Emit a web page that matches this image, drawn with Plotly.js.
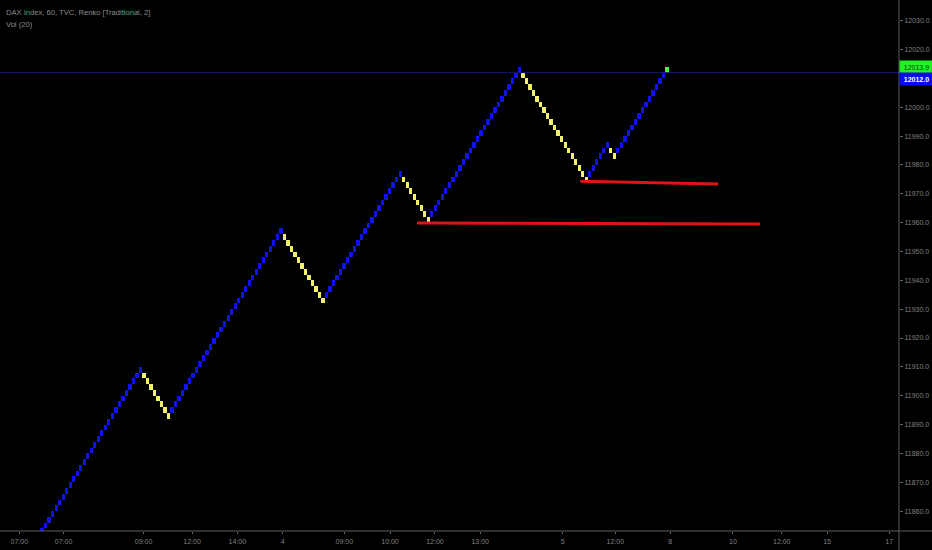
<!DOCTYPE html>
<html><head><meta charset="utf-8">
<script src="https://cdn.plot.ly/plotly-3.0.1.min.js"></script>
<style>html,body{margin:0;padding:0;background:#000;}#chart{width:932px;height:550px;}</style>
</head><body><div id="chart"></div>
<script>
// Renko bricks (brick size 2): bottoms of each brick, per swing
const swingA_up   = [11850,11852,11854,11856,11858,11860,11862,11864,11866,11868,11870,11872,11874,11876,11878,11880,11882,11884,11886,11888,11890,11892,11894,11896,11898,11900,11902,11904,11906,11908];
const swingB_down = [11906,11904,11902,11900,11898,11896,11894,11892];
const swingC_up   = [11894,11896,11898,11900,11902,11904,11906,11908,11910,11912,11914,11916,11918,11920,11922,11924,11926,11928,11930,11932,11934,11936,11938,11940,11942,11944,11946,11948,11950,11952,11954,11956];
const swingD_down = [11954,11952,11950,11948,11946,11944,11942,11940,11938,11936,11934,11932];
const swingE_up   = [11934,11936,11938,11940,11942,11944,11946,11948,11950,11952,11954,11956,11958,11960,11962,11964,11966,11968,11970,11972,11974,11976];
const swingF_down = [11974,11972,11970,11968,11966,11964,11962,11960];
const swingG_up   = [11962,11964,11966,11968,11970,11972,11974,11976,11978,11980,11982,11984,11986,11988,11990,11992,11994,11996,11998,12000,12002,12004,12006,12008,12010,12012];
const swingH_down = [12010,12008,12006,12004,12002,12000,11998,11996,11994,11992,11990,11988,11986,11984,11982,11980,11978,11976,11974];
const swingI_up   = [11976,11978,11980,11982,11984,11986];
const swingJ_down = [11984,11982];
const swingK_up   = [11984,11986,11988,11990,11992,11994,11996,11998,12000,12002,12004,12006,12008,12010,12012];
const brickSize = 2;

// x-axis tick positions (brick index) and labels
const xTickVals   = [-5.5, 7.1, 29.9, 43.7, 56.6, 69.5, 87.1, 100.1, 112.9, 125.8, 149.3, 164.3, 179.9, 197.8, 211.7, 224.6, 242.3];
const xTickLabels = ["07:00","07:00","09:00","12:00","14:00","4","09:00","10:00","12:00","13:00","5","12:00","8","10","12:00","15","17"];
// y-axis ticks
const yTickVals = [11860,11870,11880,11890,11900,11910,11920,11930,11940,11950,11960,11970,11980,11990,12000,12020,12030];

// horizontal lines drawn by the author (brick index, price)
const support1X = [154.3, 193.6], support1Y = [11974.4, 11973.4];
const support2X = [107.8, 205.5], support2Y = [11959.9, 11959.5];
const lastBrickClose = 12012.0;
const lastPrice = 12013.9;

const swings = [
  [swingA_up,'up'],[swingB_down,'down'],[swingC_up,'up'],[swingD_down,'down'],
  [swingE_up,'up'],[swingF_down,'down'],[swingG_up,'up'],[swingH_down,'down'],
  [swingI_up,'up'],[swingJ_down,'down'],[swingK_up,'up']
];
const COL_UP = '#1212f0', COL_DOWN = '#f2f26a', COL_LAST = '#3cff3c';
const bx = [], bbase = [], bh = [], bcol = [];
let idx = 0;
swings.forEach(([arr, dir]) => {
  arr.forEach(v => {
    bx.push(idx++); bbase.push(v); bh.push(brickSize);
    bcol.push(dir === 'up' ? COL_UP : COL_DOWN);
  });
});
bcol[bcol.length - 1] = COL_LAST;

const gridFont = {family: 'Liberation Sans, Arial, sans-serif', size: 7, color: '#808080'};

const traces = [
  {type:'scatter', mode:'lines', x:[-20, 300], y:[lastBrickClose, lastBrickClose],
   line:{color:'#16167a', width:1}, hoverinfo:'skip', showlegend:false},
  {type:'bar', x:bx, base:bbase, y:bh, width:0.95,
   marker:{color:bcol, line:{width:0}}, hoverinfo:'skip', showlegend:false},
  {type:'scatter', mode:'lines', x:support1X, y:support1Y,
   line:{color:'#e01414', width:3}, hoverinfo:'skip', showlegend:false},
  {type:'scatter', mode:'lines', x:support2X, y:support2Y,
   line:{color:'#e01414', width:3}, hoverinfo:'skip', showlegend:false}
];

const layout = {
  width:932, height:550,
  margin:{l:0, r:33, t:0, b:19, pad:0},
  paper_bgcolor:'#000', plot_bgcolor:'#000',
  showlegend:false, bargap:0,
  xaxis:{range:[-11.0, 245.1], showgrid:false, zeroline:false, showline:false,
         tickmode:'array', tickvals:xTickVals, ticktext:xTickLabels,
         ticks:'outside', ticklen:2, tickcolor:'#666', tickfont:gridFont, ticklabelstandoff:2, fixedrange:true},
  yaxis:{range:[11853.1, 12037.2], side:'right', showgrid:false, zeroline:false, showline:false,
         tickmode:'array', tickvals:yTickVals, tickformat:'.1f',
         ticks:'outside', ticklen:3, tickcolor:'#666', tickfont:gridFont, fixedrange:true},
  shapes:[
    {type:'line', xref:'paper', yref:'paper', x0:0, x1:932/899, y0:0, y1:0, line:{color:'#5a5a5a', width:1}},
    {type:'line', xref:'paper', yref:'paper', x0:1, x1:1, y0:-19/531, y1:1, line:{color:'#5a5a5a', width:1}}
  ],
  annotations:[
    {xref:'paper', yref:'paper', x:0, y:1, xanchor:'left', yanchor:'top', xshift:4, yshift:-6,
     text:'DAX Index, 60, TVC, Renko [Traditional, 2]', showarrow:false,
     font:{family:'Liberation Sans, Arial, sans-serif', size:7.6, color:'#8c8c8c'}},
    {xref:'paper', yref:'paper', x:0, y:1, xanchor:'left', yanchor:'top', xshift:4, yshift:-18,
     text:'Vol (20)', showarrow:false,
     font:{family:'Liberation Sans, Arial, sans-serif', size:7.6, color:'#8c8c8c'}},
    {xref:'paper', yref:'y', x:1, y:lastPrice, xanchor:'left', yanchor:'middle', xshift:0,
     text:lastPrice.toFixed(1), showarrow:false, bgcolor:'#22f022', width:31, height:10, borderpad:1,
     align:'center', font:{family:'Liberation Sans, Arial, sans-serif', size:7, color:'#0a3a0a'}},
    {xref:'paper', yref:'y', x:1, y:lastBrickClose, xanchor:'left', yanchor:'middle', xshift:0, yshift:-6,
     text:'<b>'+lastBrickClose.toFixed(1)+'</b>', showarrow:false, bgcolor:'#0a0af0', width:31, height:10, borderpad:1,
     align:'center', font:{family:'Liberation Sans, Arial, sans-serif', size:7, color:'#ffffff'}}
  ]
};

Plotly.newPlot('chart', traces, layout, {staticPlot:true, displayModeBar:false});
</script></body></html>
